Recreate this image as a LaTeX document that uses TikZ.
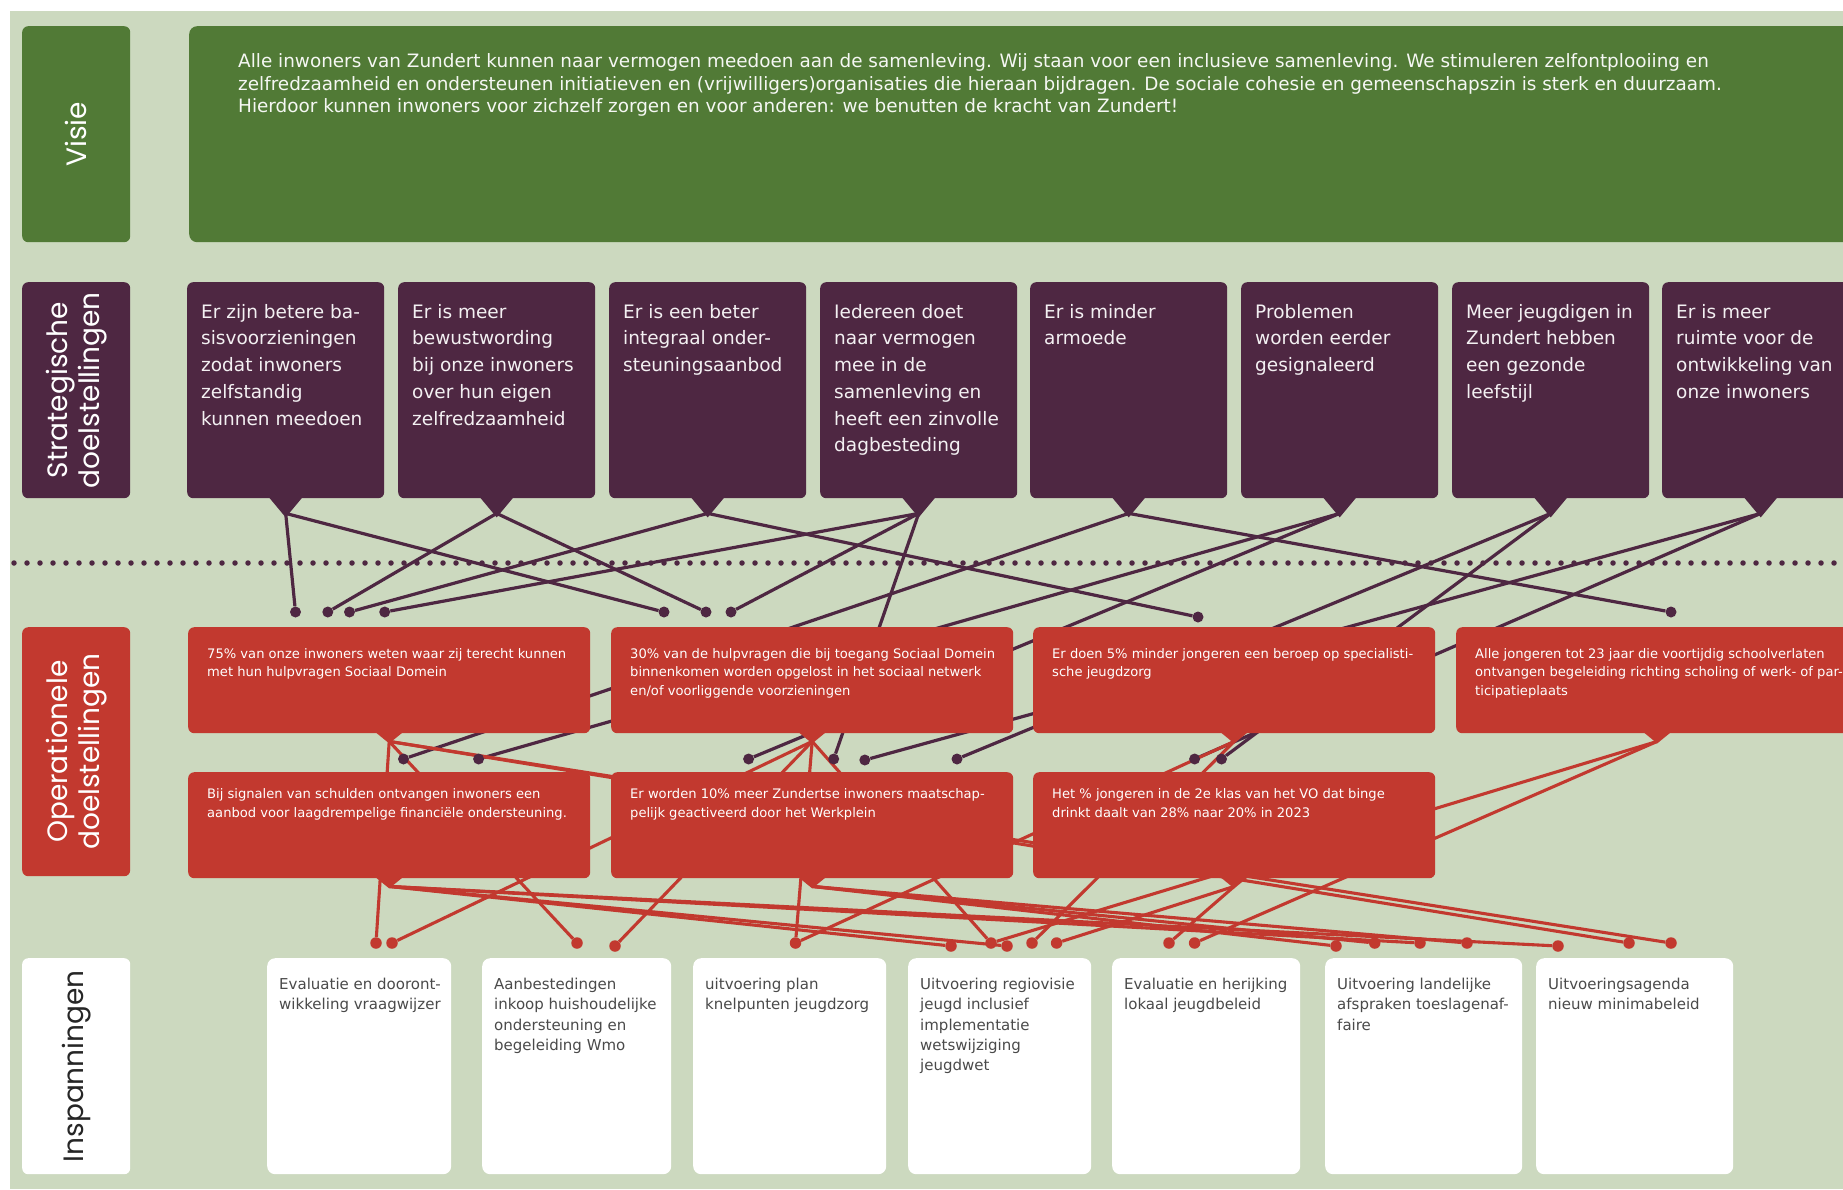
\documentclass[tikz,border=0pt]{standalone}
\usepackage{fontspec}
\setmainfont{DejaVu Sans}
\newfontfamily\opfont{DejaVu Sans}
\newfontfamily\labfont{Poppins}
\usetikzlibrary{calc}
\definecolor{bgc}{HTML}{CCD9BF}
\definecolor{visgreen}{HTML}{517A36}
\definecolor{strpurple}{HTML}{4E2742}
\definecolor{opred}{HTML}{C2392F}
\definecolor{insgray}{HTML}{4A4A4A}
\pgfdeclarelayer{back}
\pgfdeclarelayer{links}
\pgfsetlayers{back,links,main}
\begin{document}
\begin{tikzpicture}[x=1pt,y=-1pt,
  sbox/.style={fill=strpurple, rounded corners=6pt, minimum width=197pt, minimum height=216pt, anchor=north west, inner sep=0pt},
  obox/.style={fill=opred, rounded corners=6pt, minimum width=402pt, minimum height=106pt, anchor=north west, inner sep=0pt},
  ibox/.style={fill=white, rounded corners=8pt, minimum height=216pt, anchor=north west, inner sep=0pt},
  lbox/.style={rounded corners=6pt, minimum width=108pt, anchor=north west, inner sep=0pt},
  ltext/.style={rotate=90, font=\labfont\fontsize{28}{32}\selectfont, align=center, inner sep=0pt},
  stext/.style={font=\fontsize{18.5}{26.7}\selectfont, text=white!93!strpurple, align=left, anchor=north west, inner sep=0pt},
  otext/.style={font=\opfont\fontsize{13.1}{18.3}\selectfont, text=white, align=left, anchor=north west, inner sep=0pt},
  itext/.style={font=\fontsize{15}{20.4}\selectfont, text=insgray, align=left, anchor=north west, inner sep=0pt},
  pdot/.style={circle, fill=strpurple, minimum size=11pt, inner sep=0pt},
  rdot/.style={circle, fill=opred, minimum size=11.5pt, inner sep=0pt},
  pline/.style={draw=strpurple, line width=3.2pt},
  rline/.style={draw=opred, line width=3.1pt}]
\useasboundingbox (0,0) rectangle (1843,1189);
\clip (0,0) rectangle (1843,1189);
\begin{pgfonlayer}{back}
\fill[white] (0,0) rectangle (1843,1189);
\fill[bgc] (10,11) rectangle (1843,1189);
\end{pgfonlayer}

% left label column
\node[lbox, fill=visgreen, minimum height=216pt] (lv) at (22,26) {};
\node[ltext, text=white] (lvt) at (lv.center) {Visie};
\node[lbox, fill=strpurple, minimum height=216pt] (ls) at (22,282) {};
\node[ltext, text=white] (lst) at (ls.center) {Strategische\\doelstellingen};
\node[lbox, fill=opred, minimum height=249pt] (lo) at (22,627) {};
\node[ltext, text=white] (lot) at (lo.center) {Operationele\\doelstellingen};
\node[lbox, fill=white, minimum height=216pt] (li) at (22,958) {};
\node[ltext, text=black!85] (lit) at (li.center) {Inspanningen};

% visie
\node[fill=visgreen, rounded corners=8pt, minimum width=1700pt, minimum height=216pt, anchor=north west, inner sep=0pt] (vis) at (189,26) {};
\node[font=\fontsize{18.4}{22.3}\selectfont, text=white!94!visgreen, align=left, anchor=north west, inner sep=0pt] (vist) at (238,53) {\rule{0pt}{14.5pt}Alle inwoners van Zundert kunnen naar vermogen meedoen aan de samenleving. Wij staan voor een inclusieve samenleving. We stimuleren zelfontplooiing en\\zelfredzaamheid en ondersteunen initiatieven en (vrijwilligers)organisaties die hieraan bijdragen. De sociale cohesie en gemeenschapszin is sterk en duurzaam.\\Hierdoor kunnen inwoners voor zichzelf zorgen en voor anderen: we benutten de kracht van Zundert!};

% strategic boxes
\foreach \n/\x/\t in {
 1/187/{Er zijn betere ba-\\sisvoorzieningen\\zodat inwoners\\zelfstandig\\kunnen meedoen},
 2/398/{Er is meer\\bewustwording\\bij onze inwoners\\over hun eigen\\zelfredzaamheid},
 3/609/{Er is een beter\\integraal onder-\\steuningsaanbod},
 4/820/{Iedereen doet\\naar vermogen\\mee in de\\samenleving en\\heeft een zinvolle\\dagbesteding},
 5/1030/{Er is minder\\armoede},
 6/1241/{Problemen\\worden eerder\\gesignaleerd},
 7/1452/{Meer jeugdigen in\\Zundert hebben\\een gezonde\\leefstijl},
 8/1662/{Er is meer\\ruimte voor de\\ontwikkeling van\\onze inwoners}}
{
 \node[sbox] (s\n) at (\x,282) {};
 \fill[strpurple] ($(s\n.south)+(-17.5,-2)$) -- ($(s\n.south)+(17.5,-2)$) -- ($(s\n.south)+(0,19)$) -- cycle;
 \coordinate (sp\n) at ($(s\n.south)+(0,15)$);
 \node[stext] (st\n) at ($(s\n.north west)+(14,21.2)$) {\rule{0pt}{14.8pt}\t};
}

% operational boxes
\foreach \n/\x/\y/\o/\t in {
 11/188/627/20.9/{75\% van onze inwoners weten waar zij terecht kunnen\\met hun hulpvragen Sociaal Domein},
 12/611/627/20.9/{30\% van de hulpvragen die bij toegang Sociaal Domein\\binnenkomen worden opgelost in het sociaal netwerk\\en/of voorliggende voorzieningen},
 13/1033/627/20.9/{Er doen 5\% minder jongeren een beroep op specialisti-\\sche jeugdzorg},
 14/1456/627/20.9/{Alle jongeren tot 23 jaar die voortijdig schoolverlaten\\ontvangen begeleiding richting scholing of werk- of par-\\ticipatieplaats},
 21/188/772/16.2/{Bij signalen van schulden ontvangen inwoners een\\aanbod voor laagdrempelige financiële ondersteuning.},
 22/611/772/16.2/{Er worden 10\% meer Zundertse inwoners maatschap-\\pelijk geactiveerd door het Werkplein},
 23/1033/772/16.2/{Het \% jongeren in de 2e klas van het VO dat binge\\drinkt daalt van 28\% naar 20\% in 2023}}
{
 \node[obox] (o\n) at (\x,\y) {};
 \fill[opred] ($(o\n.south)+(-14.7,-2)$) -- ($(o\n.south)+(14.7,-2)$) -- ($(o\n.south)+(0,10)$) -- cycle;
 \coordinate (op\n) at ($(o\n.south)+(0,8)$);
 \node[otext] (ot\n) at ($(o\n.north west)+(19,\o)$) {\rule{0pt}{10.4pt}\t};
}

% inspanningen boxes
\foreach \n/\x/\w/\t in {
 1/267/184/{Evaluatie en dooront-\\wikkeling vraagwijzer},
 2/482/189/{Aanbestedingen\\inkoop huishoudelijke\\ondersteuning en\\begeleiding Wmo},
 3/693/193/{uitvoering plan\\knelpunten jeugdzorg},
 4/908/183/{Uitvoering regiovisie\\jeugd inclusief\\implementatie\\wetswijziging\\jeugdwet},
 5/1112/188/{Evaluatie en herijking\\lokaal jeugdbeleid},
 6/1325/197/{Uitvoering landelijke\\afspraken toeslagenaf-\\faire},
 7/1536/197/{Uitvoeringsagenda\\nieuw minimabeleid}}
{
 \node[ibox, minimum width=\w pt] (i\n) at (\x,958) {};
 \node[itext] (it\n) at ($(i\n.north west)+(12,19)$) {\rule{0pt}{12pt}\t};
}

% purple dots
\node[pdot] (d1) at (295.5,612) {};
\node[pdot] (d2) at (327.8,612) {};
\node[pdot] (d3) at (349.5,612) {};
\node[pdot] (d4) at (384.7,612) {};
\node[pdot] (d5) at (664,612) {};
\node[pdot] (d6) at (706,612) {};
\node[pdot] (d7) at (731,612) {};
\node[pdot] (d8) at (1198,617) {};
\node[pdot] (d9) at (1671,612) {};
\node[pdot] (e1) at (403.5,759) {};
\node[pdot] (e2) at (478.6,759) {};
\node[pdot] (e3) at (748.6,759) {};
\node[pdot] (e4) at (833.7,759) {};
\node[pdot] (e5) at (864.8,760) {};
\node[pdot] (e6) at (957,759) {};
\node[pdot] (e7) at (1194.6,759) {};
\node[pdot] (e8) at (1221.5,759) {};

% red dots
\foreach \n/\x/\y in {1/376/943, 2/392/943, 3/577/943, 4/615/946, 5/795.5/943, 6/951/946, 7/991/943, 8/1007/946, 9/1032/943, 10/1056.6/943, 11/1169/943, 12/1194.6/943, 13/1336/946, 14/1374.7/943, 15/1420/943, 16/1467/943, 17/1558/946, 18/1629/943, 19/1671/943}
 {\node[rdot] (r\n) at (\x,\y) {};}

\begin{pgfonlayer}{links}
\draw[strpurple, line width=5.5pt, line cap=round, dash pattern=on 0pt off 13pt] (14,563) -- (1843,563);
% strategic -> operational
\draw[pline] (sp1) -- (d1);
\draw[pline] (sp1) -- (d5);
\draw[pline] (sp2) -- (d2);
\draw[pline] (sp2) -- (d6);
\draw[pline] (sp3) -- (d3);
\draw[pline] (sp3) -- (d8);
\draw[pline] (sp4) -- (d4);
\draw[pline] (sp4) -- (d7);
\draw[pline] (sp4) -- (e4);
\draw[pline] (sp5) -- (e1);
\draw[pline] (sp5) -- (d9);
\draw[pline] (sp6) -- (e2);
\draw[pline] (sp6) -- (e3);
\draw[pline] (sp7) -- (e6);
\draw[pline] (sp7) -- (e8);
\draw[pline] (sp8) -- (e5);
\draw[pline] (sp8) -- (e7);
% operational -> inspanningen
\draw[rline] (op11) -- (r1);
\draw[rline] (op11) -- (r3);
\draw[rline] (op11) -- (r18);
\draw[rline] (op11) -- (r19);
\draw[rline] (op12) -- (r2);
\draw[rline] (op12) -- (r4);
\draw[rline] (op12) -- (r5);
\draw[rline] (op12) -- (r7);
\draw[rline] (op13) -- (r5);
\draw[rline] (op13) -- (r9);
\draw[rline] (op14) -- (r7);
\draw[rline] (op14) -- (r12);
\draw[rline] (op21) -- (r6);
\draw[rline] (op21) -- (r8);
\draw[rline] (op21) -- (r15);
\draw[rline] (op21) -- (r17);
\draw[rline] (op22) -- (r13);
\draw[rline] (op22) -- (r14);
\draw[rline] (op22) -- (r16);
\draw[rline] (op23) -- (r10);
\draw[rline] (op23) -- (r11);
\end{pgfonlayer}
\end{tikzpicture}
\end{document}
